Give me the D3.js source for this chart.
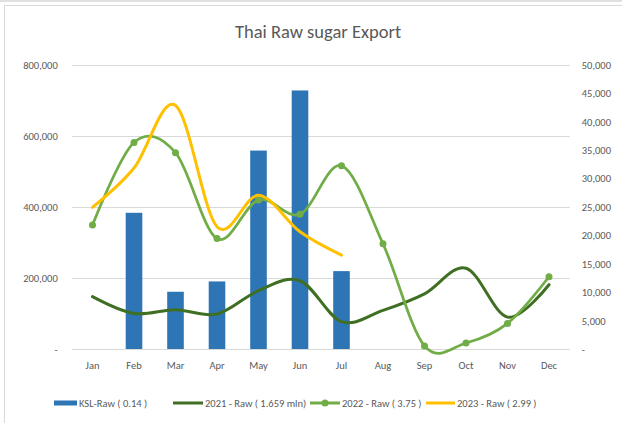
<!DOCTYPE html>
<html><head><meta charset="utf-8">
<script src="https://cdn.jsdelivr.net/npm/d3@7"></script>
<style>
html,body{margin:0;padding:0;background:#fff;}
svg text{font-family:Carlito,"Liberation Sans Narrow","Open Sans",sans-serif;fill:#595959;}
</style></head>
<body><svg id="c" width="622" height="423"></svg>
<script>
const months = ["Jan","Feb","Mar","Apr","May","Jun","Jul","Aug","Sep","Oct","Nov","Dec"];
const kslRaw = [null,383000,161000,190000,558000,727000,219000,null,null,null,null,null];
const raw2021 = [9200,6250,6900,6150,10250,12000,4800,6800,9700,14200,5600,11300];
const raw2022 = [21800,36300,34500,19400,26200,23700,32200,18500,530,1050,4500,12700];
const raw2023 = [24900,31800,42800,21500,27000,20600,16500,null,null,null,null,null];
const leftTicks = [0,200000,400000,600000,800000];
const rightTicks = [0,5000,10000,15000,20000,25000,30000,35000,40000,45000,50000];
const legendLabels = ["KSL-Raw ( 0.14 )","2021 - Raw ( 1.659 mln)","2022 - Raw  ( 3.75 )","2023 - Raw ( 2.99 )"];
const colors = {ksl:"#2e75b6", r21:"#3f6f22", r22:"#70ad47", r23:"#ffc000"};

const svg = d3.select("#c");
// outer frame
svg.append("line").attr("x1",0).attr("x2",622).attr("y1",1).attr("y2",1).attr("stroke","#e0e0e0").attr("stroke-width",2);
svg.append("rect").attr("x",4.5).attr("y",5.5).attr("width",700).attr("height",500).attr("fill","none").attr("stroke","#d9d9d9");

const L = 71.75, R = 569.75, T = 64.5, B = 349;
const x = d3.scaleBand().domain(months).range([L,R]).paddingInner(0.6).paddingOuter(0.3);
const xc = m => x(m) + x.bandwidth()/2;
const yL = d3.scaleLinear().domain([0,800000]).range([B,T]);
const yR = d3.scaleLinear().domain([0,50000]).range([B,T]);

svg.append("text").attr("x",318).attr("y",38).attr("text-anchor","middle").style("font-size","18.5px").text("Thai Raw sugar Export");

// gridlines
const fmt = d3.format(",");
svg.append("g").selectAll("line").data(leftTicks).join("line")
  .attr("x1",L).attr("x2",R).attr("y1",d=>Math.round(yL(d))+0.5).attr("y2",d=>Math.round(yL(d))+0.5)
  .attr("stroke","#d9d9d9").attr("stroke-width",1.2);

// left axis
const la = svg.append("g").attr("transform",`translate(${L-14},0)`)
  .call(d3.axisLeft(yL).tickValues(leftTicks).tickSize(0).tickFormat(d=>d===0?"-":fmt(d)));
la.select(".domain").remove();
la.selectAll("text").style("font-size","10.5px").attr("x",0).attr("dy","0.35em");
// right axis
const ra = svg.append("g").attr("transform",`translate(${R+12},0)`)
  .call(d3.axisRight(yR).tickValues(rightTicks).tickSize(0).tickFormat(d=>d===0?"-":fmt(d)));
ra.select(".domain").remove();
ra.selectAll("text").style("font-size","10.5px").attr("x",0).attr("dy","0.35em");
// bottom axis
const ba = svg.append("g").attr("transform",`translate(0,${B+10})`)
  .call(d3.axisBottom(x).tickSize(0));
ba.select(".domain").remove();
ba.selectAll("text").style("font-size","10.5px").attr("dy","0.71em");

// bars
svg.append("g").selectAll("rect").data(months.map((m,i)=>({m,v:kslRaw[i]})).filter(d=>d.v!=null)).join("rect")
  .attr("x",d=>x(d.m)).attr("width",x.bandwidth()).attr("y",d=>yL(d.v)).attr("height",d=>B-yL(d.v))
  .attr("fill",colors.ksl);

const curve = d3.curveCardinal.tension(0);
function series(vals,color,w){
  const pts = months.map((m,i)=>({m,v:vals[i]})).filter(d=>d.v!=null);
  svg.append("path").datum(pts).attr("fill","none").attr("stroke",color).attr("stroke-width",w)
    .attr("stroke-linecap","round")
    .attr("d",d3.line().x(d=>xc(d.m)).y(d=>yR(d.v)).curve(curve));
  return pts;
}
series(raw2021,colors.r21,3);
const p22 = series(raw2022,colors.r22,2.75);
svg.append("g").selectAll("circle").data(p22).join("circle")
  .attr("cx",d=>xc(d.m)).attr("cy",d=>yR(d.v)).attr("r",3.5).attr("fill",colors.r22);
series(raw2023,colors.r23,3);

// legend
const lg = svg.append("g").attr("transform","translate(0,403)");
lg.append("rect").attr("x",54).attr("y",-2.5).attr("width",23).attr("height",5).attr("fill",colors.ksl);
lg.append("text").attr("x",79).attr("dy","0.35em").style("font-size","10.5px").text(legendLabels[0]);
lg.append("line").attr("x1",173).attr("x2",203).attr("stroke",colors.r21).attr("stroke-width",3);
lg.append("text").attr("x",205).attr("dy","0.35em").style("font-size","10.5px").text(legendLabels[1]);
lg.append("line").attr("x1",310).attr("x2",340).attr("stroke",colors.r22).attr("stroke-width",3);
lg.append("circle").attr("cx",325).attr("cy",0).attr("r",3.5).attr("fill",colors.r22);
lg.append("text").attr("x",342).attr("dy","0.35em").style("font-size","10.5px").text(legendLabels[2]);
lg.append("line").attr("x1",426).attr("x2",455).attr("stroke",colors.r23).attr("stroke-width",3);
lg.append("text").attr("x",457).attr("dy","0.35em").style("font-size","10.5px").text(legendLabels[3]);
</script></body></html>
